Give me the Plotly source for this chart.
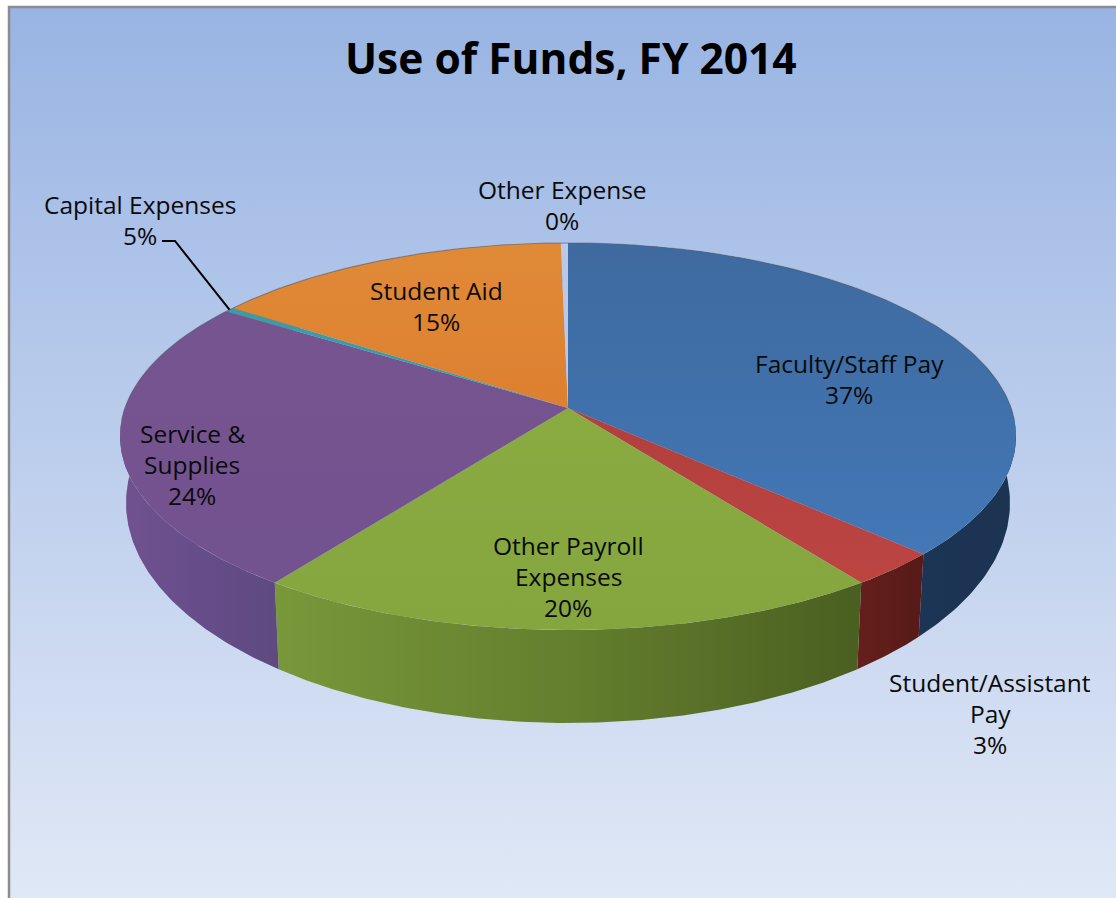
import numpy as np
import plotly.graph_objects as go

title = "Use of Funds, FY 2014"
categories = ["Faculty/Staff Pay", "Student/Assistant Pay", "Other Payroll Expenses",
              "Service & Supplies", "Capital Expenses", "Student Aid", "Other Expense"]
# shares (percent of the circle)
slice_shares = [37.2, 2.9, 19.8, 24.4, 0.4, 15.0, 0.3]
# percentages as printed on the chart
printed_pct = ["37%", "3%", "20%", "24%", "5%", "15%", "0%"]

label_lines = [["Faculty/Staff Pay", "37%"], ["Student/Assistant", "Pay", "3%"],
               ["Other Payroll", "Expenses", "20%"], ["Service &", "Supplies", "24%"],
               ["Capital Expenses", "5%"], ["Student Aid", "15%"], ["Other Expense", "0%"]]
label_pos = [(849, 379), (990, 713), (568, 576.5), (192, 464.5), (140, 220), (436, 306), (562, 204.5)]

top_grad = [["#3e6a9f", "#4377b6"], ["#b23f3d", "#bc4542"], ["#8aab42", "#85a53e"],
            ["#76548f", "#72528f"], ["#3a9cab", "#3a9cab"], ["#e08a38", "#dd8030"], ["#b9c9e7", "#b9c9e7"]]
wall_grad = [["#1c3a60", "#1c3352"], ["#651f1c", "#561a18"], ["#78983a", "#647f2e", "#4a5f20"],
             ["#70528f", "#664d8a", "#5f4a80"], ["#3a9cab", "#3a9cab"], ["#b06a28", "#b06a28"],
             ["#8899bb", "#8899bb"]]

W, H = 1116, 898
CX = 568
K = 0.147


def disc(front_y, rx, center_y):
    front = front_y - center_y
    a = rx * np.sqrt(1 - K * K)
    b = front * (1 - K)

    def proj(theta):
        u, v = np.sin(theta), -np.cos(theta)
        w = 1 - K * v
        return CX + a * u / w, center_y + b * v / w
    return proj


top = disc(630, 448, 408)
bottom = disc(723, 442, 470.5)

shares = np.array(slice_shares, dtype=float)
edges = np.concatenate([[0], np.cumsum(shares)]) / shares.sum() * 2 * np.pi


def stops(cols):
    return [[i / (len(cols) - 1), c] for i, c in enumerate(cols)]


fig = go.Figure()

# background panel with gradient
fig.add_trace(go.Scatter(
    x=[9, W, W, 9, 9], y=[7, 7, H, H, 7], mode="lines", fill="toself",
    line=dict(width=0), hoverinfo="skip", showlegend=False,
    fillgradient=dict(type="vertical", colorscale=[[0, "#e0e8f6"], [1, "#99b4e3"]])))
# frame lines
fig.add_trace(go.Scatter(x=[9, 9, W], y=[H, 7, 7], mode="lines",
                         line=dict(color="#8c8c8c", width=2.5), hoverinfo="skip", showlegend=False))

# side walls
for i in range(len(shares)):
    t = np.linspace(edges[i], edges[i + 1], 160)
    xt, yt = top(t)
    xb, yb = bottom(t[::-1])
    fig.add_trace(go.Scatter(
        x=np.r_[xt, xb, xt[0]], y=np.r_[yt, yb, yt[0]], mode="lines", fill="toself",
        line=dict(width=0), hoverinfo="skip", showlegend=False,
        fillgradient=dict(type="horizontal", colorscale=stops(wall_grad[i]))))

# top faces
for i, name in enumerate(categories):
    t = np.linspace(edges[i], edges[i + 1], 220)
    xt, yt = top(t)
    fig.add_trace(go.Scatter(
        x=np.r_[CX, xt, CX], y=np.r_[408, yt, 408], mode="lines", fill="toself",
        line=dict(width=0), name=name, hovertext=f"{name} {printed_pct[i]}", hoverinfo="text",
        showlegend=False,
        fillgradient=dict(type="vertical", colorscale=stops(top_grad[i][::-1]))))

# soft grey rim on the back of the disc
t = np.linspace(-np.pi * 0.52, np.pi * 0.52, 300)
xr, yr = top(t)
fig.add_trace(go.Scatter(x=xr, y=yr, mode="lines", line=dict(color="rgba(90,100,120,0.55)", width=1.2),
                         hoverinfo="skip", showlegend=False))

# leader line of the Capital Expenses label
cap_mid = (edges[4] + edges[5]) / 2
lx, ly = top(np.array([cap_mid]))
fig.add_trace(go.Scatter(x=[162, 175, lx[0]], y=[241, 241, ly[0]], mode="lines",
                         line=dict(color="#000000", width=2), hoverinfo="skip", showlegend=False))

annotations = [dict(x=571, y=57, xref="x", yref="y", text=f"<b>{title}</b>", showarrow=False,
                    font=dict(family="Open Sans", size=42.5, color="#000000"),
                    xanchor="center", yanchor="middle")]
LINE = 31
for lines, (x, y) in zip(label_lines, label_pos):
    for j, s in enumerate(lines):
        annotations.append(dict(x=x, y=y + (j - (len(lines) - 1) / 2) * LINE, xref="x", yref="y",
                                text=s, showarrow=False, xanchor="center", yanchor="middle",
                                font=dict(family="Open Sans", size=24.5, color="#0a0a0a")))

fig.update_layout(
    width=W, height=H, margin=dict(l=0, r=0, t=0, b=0), autosize=False,
    paper_bgcolor="#ffffff", plot_bgcolor="#ffffff", showlegend=False,
    xaxis=dict(range=[0, W], visible=False, fixedrange=True),
    yaxis=dict(range=[H, 0], visible=False, fixedrange=True),
    annotations=annotations)

fig.write_html("out.html", config={"displayModeBar": False},
               post_script="document.body.style.margin='0';document.documentElement.style.overflow='hidden';")
